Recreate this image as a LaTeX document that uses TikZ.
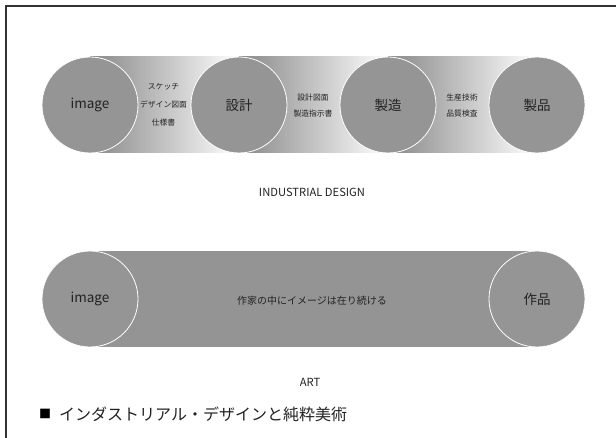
\documentclass[tikz,border=0pt]{standalone}
\usepackage{fontspec}
\setmainfont{Noto Sans CJK JP}
\definecolor{circgray}{HTML}{959595}
\definecolor{bandgray}{HTML}{949494}
\definecolor{segdark}{HTML}{888888}
\definecolor{seglight}{HTML}{FFFFFF}
\definecolor{textdark}{HTML}{222222}
\definecolor{framegray}{HTML}{333333}
\begin{document}
\begin{tikzpicture}[x=1pt,y=-1pt,
  stage/.style={circle, minimum size=96pt, inner sep=0pt, fill=circgray, draw=white, line width=0.8pt,
    text=textdark, font=\fontsize{13.5}{15}\selectfont},
  smalllabel/.style={align=center, text=textdark, inner sep=0pt},
  caption/.style={text=textdark, font=\fontsize{11.2}{13}\selectfont, inner sep=0pt}]
\useasboundingbox (0,0) rectangle (616,438);
\fill[white] (0,0) rectangle (616,438);
% frame
\draw[framegray, line width=1.5pt] (6,438) -- (6,6) -- (616,6);
% top band segments
\foreach \a/\b in {90/239, 239/388, 388/537} {
  \shade[left color=segdark, right color=seglight] (\a,57) rectangle (\b,153);
}
\node[stage] (img1) at (90,105) {image};
\node[stage] (sekkei) at (239,105) {設計};
\node[stage] (seizo) at (388,105) {製造};
\node[stage] (seihin) at (537,105) {製品};
\node[smalllabel, font=\fontsize{7.8}{18}\selectfont] (l1) at (163.5,105) {スケッチ\\デザイン図面\\仕様書};
\node[smalllabel, font=\fontsize{7.8}{16}\selectfont] (l2) at (313,106) {設計図面\\製造指示書};
\node[smalllabel, font=\fontsize{7.8}{16}\selectfont] (l3) at (462,106) {生産技術\\品質検査};
\node[caption] (id) at (312,192) {INDUSTRIAL DESIGN};
% bottom band
\fill[bandgray] (90,251) rectangle (537,347);
\node[stage] (img2) at (90,299) {image};
\node[stage] (sakuhin) at (537,299) {作品};
\node[smalllabel, font=\fontsize{10}{12}\selectfont] (mid) at (312,301) {作家の中にイメージは在り続ける};
\node[caption] (art) at (310,382) {ART};
% caption
\node[text=black, font=\fontsize{12}{14}\selectfont, inner sep=0pt] (sq) at (45,414) {■};
\node[anchor=west, text=textdark, font=\fontsize{16}{18}\selectfont, inner sep=0pt] (cap) at (59,414) {インダストリアル・デザインと純粋美術};
\end{tikzpicture}
\end{document}
